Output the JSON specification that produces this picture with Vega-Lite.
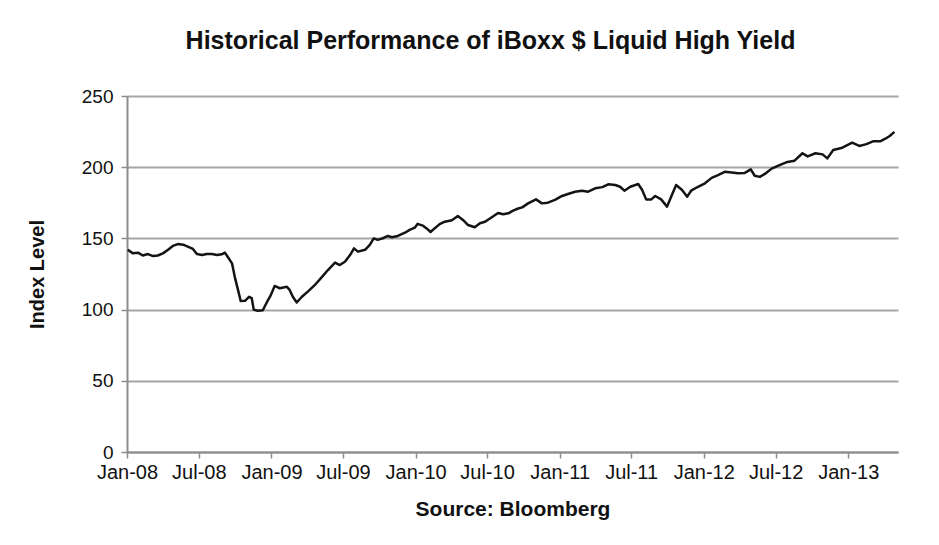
{
  "$schema": "https://vega.github.io/schema/vega-lite/v6.json",
  "width": 771,
  "height": 356,
  "autosize": "none",
  "padding": {"left": 127, "top": 96, "right": 41, "bottom": 93},
  "background": "white",
  "config": {
    "font": "Liberation Sans",
    "view": {"stroke": null}
  },
  "title": {
    "text": "Historical Performance of iBoxx $ Liquid High Yield",
    "fontSize": 25,
    "fontWeight": "bold",
    "color": "#111111",
    "anchor": "middle",
    "baseline": "alphabetic",
    "dx": -22,
    "offset": 13
  },
  "data": {
    "values": [
      {"date": "2008-01-03", "value": 142},
      {"date": "2008-01-16", "value": 139.5},
      {"date": "2008-01-29", "value": 140},
      {"date": "2008-02-10", "value": 138},
      {"date": "2008-02-23", "value": 139},
      {"date": "2008-03-07", "value": 137.6},
      {"date": "2008-03-19", "value": 138},
      {"date": "2008-04-01", "value": 139.5},
      {"date": "2008-04-14", "value": 142},
      {"date": "2008-04-26", "value": 144.7},
      {"date": "2008-05-09", "value": 146},
      {"date": "2008-05-22", "value": 145.6},
      {"date": "2008-06-03", "value": 144.2},
      {"date": "2008-06-16", "value": 142.6},
      {"date": "2008-06-26", "value": 139},
      {"date": "2008-07-09", "value": 138.3},
      {"date": "2008-07-21", "value": 139},
      {"date": "2008-08-03", "value": 139},
      {"date": "2008-08-16", "value": 138.3},
      {"date": "2008-08-28", "value": 138.8},
      {"date": "2008-09-05", "value": 140},
      {"date": "2008-09-12", "value": 137.1},
      {"date": "2008-09-23", "value": 132.5},
      {"date": "2008-09-30", "value": 123},
      {"date": "2008-10-08", "value": 114},
      {"date": "2008-10-15", "value": 106},
      {"date": "2008-10-26", "value": 106.2},
      {"date": "2008-11-05", "value": 109},
      {"date": "2008-11-12", "value": 108},
      {"date": "2008-11-17", "value": 100},
      {"date": "2008-11-27", "value": 99.2},
      {"date": "2008-12-10", "value": 99.5},
      {"date": "2008-12-20", "value": 105},
      {"date": "2008-12-30", "value": 110},
      {"date": "2009-01-09", "value": 116.6},
      {"date": "2009-01-22", "value": 115},
      {"date": "2009-02-09", "value": 116},
      {"date": "2009-02-16", "value": 113.8},
      {"date": "2009-02-24", "value": 109},
      {"date": "2009-03-06", "value": 105},
      {"date": "2009-03-19", "value": 109},
      {"date": "2009-04-03", "value": 112.6},
      {"date": "2009-04-21", "value": 117.3},
      {"date": "2009-05-09", "value": 123},
      {"date": "2009-05-24", "value": 127.8},
      {"date": "2009-06-11", "value": 133},
      {"date": "2009-06-23", "value": 131.3},
      {"date": "2009-07-06", "value": 133.6},
      {"date": "2009-07-19", "value": 138.3},
      {"date": "2009-07-29", "value": 143},
      {"date": "2009-08-08", "value": 140.7},
      {"date": "2009-08-26", "value": 142},
      {"date": "2009-09-07", "value": 145.4},
      {"date": "2009-09-17", "value": 150},
      {"date": "2009-09-27", "value": 149},
      {"date": "2009-10-10", "value": 150.1},
      {"date": "2009-10-23", "value": 151.7},
      {"date": "2009-11-02", "value": 150.8},
      {"date": "2009-11-17", "value": 151.7},
      {"date": "2009-12-05", "value": 154},
      {"date": "2009-12-17", "value": 156},
      {"date": "2009-12-30", "value": 157.5},
      {"date": "2010-01-06", "value": 160.2},
      {"date": "2010-01-19", "value": 159},
      {"date": "2010-01-29", "value": 157},
      {"date": "2010-02-08", "value": 154.5},
      {"date": "2010-02-18", "value": 157},
      {"date": "2010-03-03", "value": 160},
      {"date": "2010-03-16", "value": 161.7},
      {"date": "2010-04-03", "value": 162.8},
      {"date": "2010-04-18", "value": 165.7},
      {"date": "2010-05-01", "value": 163},
      {"date": "2010-05-14", "value": 159.4},
      {"date": "2010-05-31", "value": 157.8},
      {"date": "2010-06-13", "value": 160.6},
      {"date": "2010-06-26", "value": 161.7},
      {"date": "2010-07-14", "value": 165},
      {"date": "2010-07-29", "value": 167.8},
      {"date": "2010-08-11", "value": 166.9},
      {"date": "2010-08-24", "value": 167.6},
      {"date": "2010-09-05", "value": 169.5},
      {"date": "2010-09-18", "value": 171},
      {"date": "2010-09-28", "value": 171.8},
      {"date": "2010-10-13", "value": 174.6},
      {"date": "2010-11-02", "value": 177.4},
      {"date": "2010-11-17", "value": 174.6},
      {"date": "2010-12-02", "value": 175.1},
      {"date": "2010-12-20", "value": 177},
      {"date": "2011-01-07", "value": 179.8},
      {"date": "2011-01-22", "value": 181.2},
      {"date": "2011-02-09", "value": 182.8},
      {"date": "2011-02-27", "value": 183.5},
      {"date": "2011-03-14", "value": 182.8},
      {"date": "2011-04-01", "value": 185.2},
      {"date": "2011-04-19", "value": 186},
      {"date": "2011-05-04", "value": 188},
      {"date": "2011-05-22", "value": 187.5},
      {"date": "2011-06-03", "value": 186.3},
      {"date": "2011-06-14", "value": 183.5},
      {"date": "2011-06-29", "value": 186.3},
      {"date": "2011-07-19", "value": 188.2},
      {"date": "2011-07-29", "value": 184},
      {"date": "2011-08-08", "value": 177.4},
      {"date": "2011-08-21", "value": 177.4},
      {"date": "2011-08-31", "value": 179.8},
      {"date": "2011-09-15", "value": 177.4},
      {"date": "2011-09-30", "value": 172.3},
      {"date": "2011-10-13", "value": 181},
      {"date": "2011-10-23", "value": 187.5},
      {"date": "2011-11-07", "value": 184},
      {"date": "2011-11-20", "value": 179.3},
      {"date": "2011-11-30", "value": 183.5},
      {"date": "2011-12-15", "value": 185.9},
      {"date": "2012-01-04", "value": 188.7},
      {"date": "2012-01-21", "value": 192.5},
      {"date": "2012-02-06", "value": 194.5},
      {"date": "2012-02-23", "value": 196.8},
      {"date": "2012-03-12", "value": 196.2},
      {"date": "2012-03-27", "value": 195.7},
      {"date": "2012-04-14", "value": 196},
      {"date": "2012-04-29", "value": 198.5},
      {"date": "2012-05-09", "value": 194},
      {"date": "2012-05-22", "value": 193.2},
      {"date": "2012-06-06", "value": 195.7},
      {"date": "2012-06-21", "value": 199},
      {"date": "2012-07-11", "value": 201.5},
      {"date": "2012-07-31", "value": 203.7},
      {"date": "2012-08-18", "value": 204.6},
      {"date": "2012-09-07", "value": 209.8},
      {"date": "2012-09-20", "value": 207.6},
      {"date": "2012-10-10", "value": 209.8},
      {"date": "2012-10-28", "value": 209},
      {"date": "2012-11-09", "value": 206.2},
      {"date": "2012-11-24", "value": 212.1},
      {"date": "2012-12-17", "value": 213.7},
      {"date": "2013-01-11", "value": 217.2},
      {"date": "2013-01-29", "value": 214.9},
      {"date": "2013-02-16", "value": 216.2},
      {"date": "2013-03-06", "value": 218.3},
      {"date": "2013-03-24", "value": 218.3},
      {"date": "2013-04-05", "value": 220},
      {"date": "2013-04-16", "value": 221.9},
      {"date": "2013-04-28", "value": 224.8}
    ]
  },
  "mark": {"type": "line", "color": "#141414", "strokeWidth": 2.5, "strokeJoin": "round"},
  "encoding": {
    "x": {
      "field": "date",
      "type": "temporal",
      "scale": {
        "type": "utc",
        "domain": [
          {"year": 2008, "month": 1, "date": 1, "utc": true},
          {"year": 2013, "month": 5, "date": 7, "utc": true}
        ]
      },
      "axis": {
        "title": "Source: Bloomberg",
        "titleFontSize": 21,
        "titleFontWeight": "bold",
        "titleColor": "#111111",
        "titlePadding": 16,
        "values": [
          {"year": 2008, "month": 1, "date": 1, "utc": true},
          {"year": 2008, "month": 7, "date": 1, "utc": true},
          {"year": 2009, "month": 1, "date": 1, "utc": true},
          {"year": 2009, "month": 7, "date": 1, "utc": true},
          {"year": 2010, "month": 1, "date": 1, "utc": true},
          {"year": 2010, "month": 7, "date": 1, "utc": true},
          {"year": 2011, "month": 1, "date": 1, "utc": true},
          {"year": 2011, "month": 7, "date": 1, "utc": true},
          {"year": 2012, "month": 1, "date": 1, "utc": true},
          {"year": 2012, "month": 7, "date": 1, "utc": true},
          {"year": 2013, "month": 1, "date": 1, "utc": true}
        ],
        "labelExpr": "utcFormat(datum.value, '%b-%y')",
        "labelFontSize": 20,
        "labelColor": "#111111",
        "labelPadding": 4,
        "labelOverlap": false,
        "labelFlush": false,
        "grid": false,
        "domainColor": "#8c8c8c",
        "domainWidth": 2,
        "tickColor": "#8c8c8c",
        "tickWidth": 1.5,
        "tickSize": 6
      }
    },
    "y": {
      "field": "value",
      "type": "quantitative",
      "scale": {"domain": [0, 250], "nice": false},
      "axis": {
        "title": "Index Level",
        "titleFontSize": 20,
        "titleFontWeight": "bold",
        "titleColor": "#111111",
        "titlePadding": 34,
        "values": [0, 50, 100, 150, 200, 250],
        "labelFontSize": 19,
        "labelColor": "#111111",
        "labelPadding": 8,
        "grid": true,
        "gridColor": "#a6a6a6",
        "gridWidth": 2,
        "domainColor": "#8c8c8c",
        "domainWidth": 2,
        "tickColor": "#8c8c8c",
        "tickWidth": 1.5,
        "tickSize": 6
      }
    }
  }
}
